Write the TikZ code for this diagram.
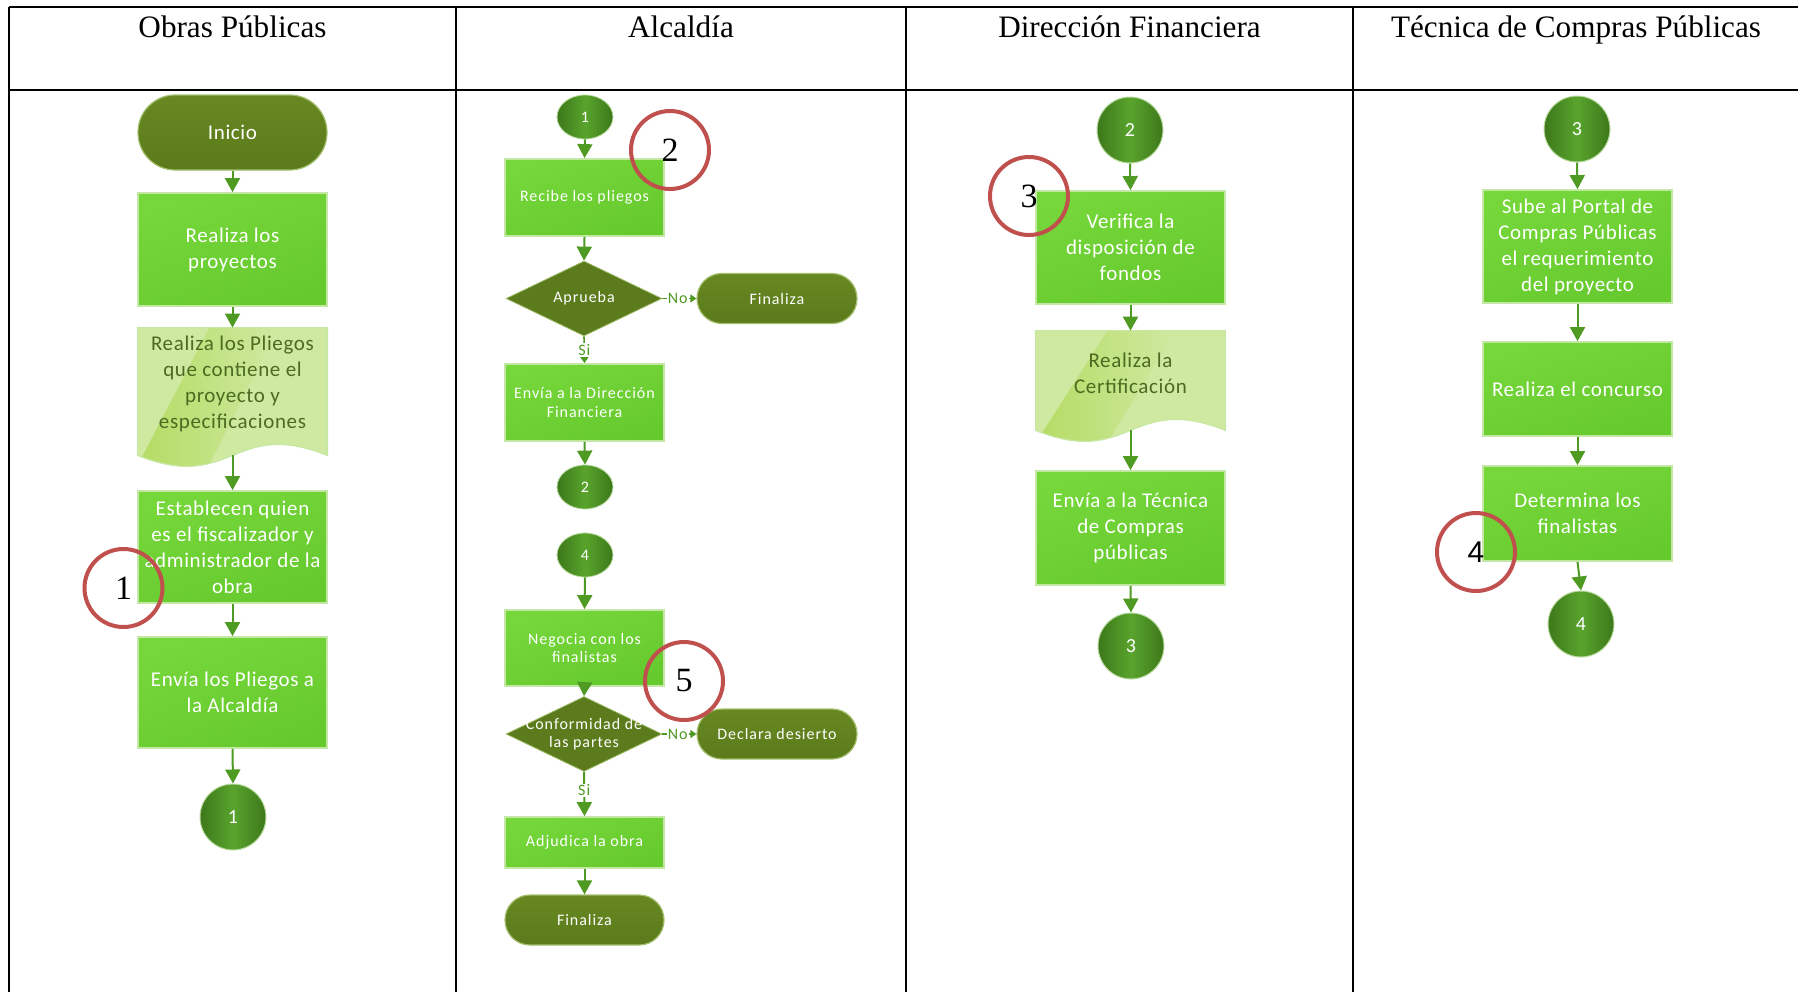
\documentclass[tikz,border=0pt]{standalone}
\usepackage{fontspec}
\setmainfont{Liberation Serif}
\newfontfamily\flowfont{Carlito}[LetterSpace=3.0]
\newfontfamily\flowsmallfont{Carlito}[LetterSpace=6.0]
\newfontfamily\marksans{Liberation Sans}
\usetikzlibrary{shapes.geometric,arrows.meta,calc,backgrounds}

\definecolor{procA}{HTML}{75D73A}
\definecolor{procB}{HTML}{66C92D}
\definecolor{procedge}{HTML}{C3E8A6}
\definecolor{oliveA}{HTML}{688822}
\definecolor{oliveB}{HTML}{5B7B1C}
\definecolor{oliveedge}{HTML}{A3BF6E}
\definecolor{conndark}{HTML}{3D781B}
\definecolor{connlight}{HTML}{59A42D}
\definecolor{connedge}{HTML}{B9DBA0}
\definecolor{flowgreen}{HTML}{4E9A22}
\definecolor{docfill}{HTML}{CFE9A0}
\definecolor{docband}{HTML}{B3DB60}
\definecolor{doctext}{HTML}{4D6B20}
\definecolor{markred}{HTML}{C0504D}

\tikzset{
  tableline/.style={line width=1pt, draw=black},
  head/.style={font=\fontsize{15.6}{18}\selectfont, anchor=base, inner sep=0pt},
  flowtext/.style={font=\flowfont\fontsize{10.5}{13}\selectfont, align=center},
  smalltext/.style={font=\flowsmallfont\fontsize{8}{9.2}\selectfont, align=center},
  proc/.style={flowtext, rectangle, draw=procedge, line width=0.9pt,
    top color=procA, bottom color=procB, shading angle=20,
    text=white, minimum width=94.5pt, inner sep=1pt},
  procs/.style={proc, smalltext, minimum width=79.5pt},
  term/.style={flowtext, rectangle, draw=oliveedge, line width=0.6pt,
    top color=oliveA, bottom color=oliveB, text=white, inner sep=1pt},
  termbig/.style={term, minimum width=94.5pt, minimum height=37.5pt, rounded corners=18.6pt},
  terms/.style={term, smalltext, minimum width=80pt, minimum height=25pt, rounded corners=12.4pt},
  decision/.style={diamond, fill=oliveB, draw=oliveedge, line width=0.4pt,
    minimum width=78pt, minimum height=37.5pt, inner sep=0pt},
  dtext/.style={smalltext, text=white, inner sep=0pt},
  conn/.style={circle, minimum size=33pt, inner sep=0pt, draw=connedge, line width=0.5pt,
    left color=conndark, right color=conndark, middle color=connlight,
    text=white, font=\flowfont\fontsize{10}{10}\selectfont},
  connsmall/.style={ellipse, minimum width=28pt, minimum height=22pt, inner sep=0pt,
    draw=connedge, line width=0.4pt,
    left color=conndark, right color=conndark, middle color=connlight,
    text=white, font=\flowsmallfont\fontsize{8}{8}\selectfont},
  docnode/.style={flowtext, rectangle, minimum width=94.5pt, inner sep=1pt, text=doctext},
  flow/.style={draw=flowgreen, line width=1pt, -{Triangle[width=7.5pt,length=7pt]}},
  flowshort/.style={draw=flowgreen, line width=0.8pt, -{Triangle[width=4pt,length=3pt]}},
  choice/.style={smalltext, text=flowgreen, fill=white, inner sep=0.6pt},
  redmark/.style={circle, draw=markred, line width=2pt, minimum size=39pt, inner sep=0pt,
    text=black, font=\fontsize{17}{17}\selectfont},
}

\begin{document}
\begin{tikzpicture}[x=0.5pt, y=-0.5pt]
\useasboundingbox (0,0) rectangle (1798,992);

% table frame
\draw[tableline] (9,6.7) -- (1798,6.7);
\draw[tableline] (9,90) -- (1798,90);
\draw[tableline] (9,6.7) -- (9,992);
\draw[tableline] (456,6.7) -- (456,992);
\draw[tableline] (906,6.7) -- (906,992);
\draw[tableline] (1353,6.7) -- (1353,992);

% lane headings
\node[head] (h1) at (232.5,37) {Obras Públicas};
\node[head] (h2) at (681,37) {Alcaldía};
\node[head] (h3) at (1129.5,37) {Dirección Financiera};
\node[head] (h4) at (1576,37) {Técnica de Compras Públicas};

% ---- Obras Públicas
\node[termbig] (inicio) at (232.5,132.5) {Inicio};
\node[proc, minimum height=56.5pt] (p1) at (232.5,249.5) {Realiza los\\proyectos};
\node[docnode, minimum height=56pt] (doc1) at (232.5,384) {Realiza los Pliegos\\que contiene el\\proyecto y\\especificaciones};
\node[proc, minimum height=56pt] (p2) at (232.5,547) {Establecen quien\\es el fiscalizador y\\administrador de la\\obra};
\node[proc, minimum height=55.5pt] (p3) at (232.5,692.5) {Envía los Pliegos a\\la Alcaldía};
\node[conn] (c1) at (233,817) {1};

% ---- Alcaldía
\node[connsmall] (e1) at (585,117) {1};
\node[procs, minimum height=38.5pt] (p4) at (584.5,197.5) {Recibe los pliegos};
\node[decision, label={[dtext]center:Aprueba}] (d1) at (584,298.5) {};
\node[terms] (t1) at (777,298.5) {Finaliza};
\node[procs, minimum height=38.5pt] (p5) at (584.5,402.5) {Envía a la Dirección\\Financiera};
\node[connsmall] (e2) at (585,487) {2};
\node[connsmall] (e4) at (585,555) {4};
\node[procs, minimum height=38pt] (p6) at (584.5,648) {Negocia con los\\finalistas};
\node[decision, label={[dtext]center:{Conformidad de\\las partes}}] (d2) at (584,734) {};
\node[terms] (t2) at (777,734) {Declara desierto};
\node[procs, minimum height=25.5pt] (p7) at (584.5,842.5) {Adjudica la obra};
\node[terms, minimum width=79.5pt] (t3) at (584.5,920) {Finaliza};

% ---- Dirección Financiera
\node[conn] (c2) at (1130,130) {2};
\node[proc, minimum height=56.5pt] (p8) at (1130.5,247.5) {Verifica la\\disposición de\\fondos};
\node[docnode, minimum height=42pt] (doc2) at (1130.5,373) {Realiza la\\Certificación};
\node[proc, minimum height=57pt] (p9) at (1130.5,528) {Envía a la Técnica\\de Compras\\públicas};
\node[conn] (c3) at (1131,646) {3};

% ---- Técnica de Compras Públicas
\node[conn] (c3b) at (1577,129) {3};
\node[proc, minimum height=56.5pt] (p10) at (1577.5,246.5) {Sube al Portal de\\Compras Públicas\\el requerimiento\\del proyecto};
\node[proc, minimum height=47pt] (p11) at (1577.5,389) {Realiza el concurso};
\node[proc, minimum height=47.5pt] (p12) at (1577.5,513.5) {Determina los\\finalistas};
\node[conn] (c4) at (1581,624) {4};

% document shapes with their wavy lower edge, behind the text
\begin{pgfonlayer}{background}
\foreach \d in {doc1,doc2} {
  \begin{scope}
    \clip (\d.north west) -- (\d.north east) -- ([yshift=-7.5pt]\d.south east)
      .. controls ([yshift=11.5pt]\d.south) and ([yshift=-26.5pt]\d.south) .. ([yshift=-7.5pt]\d.south west) -- cycle;
    \fill[docfill] ([yshift=2pt]\d.north west) rectangle ([yshift=-20pt]\d.south east);
    \shade[left color=docband, right color=docfill]
      ($(\d.north west)+(36pt,0)$) -- ($(\d.north west)+(70pt,0)$)
      -- ($(\d.south west)+(32pt,-20pt)$) -- ($(\d.south west)+(-4pt,-20pt)$) -- cycle;
    \fill[docfill] ($(\d.north west)+(0,1pt)$) -- ($(\d.north west)+(36pt,1pt)$)
      -- ($(\d.south west)+(-4pt,-20pt)$) -- ($(\d.south west)+(-10pt,-20pt)$) -- cycle;
  \end{scope}
  \draw[procedge!70!docfill, line width=0.6pt] (\d.north west) -- (\d.north east) -- ([yshift=-7.5pt]\d.south east)
      .. controls ([yshift=11.5pt]\d.south) and ([yshift=-26.5pt]\d.south) .. ([yshift=-7.5pt]\d.south west) -- cycle;
}
\end{pgfonlayer}

% connectors, Obras Públicas
\draw[flow] (inicio.south) -- (p1.north);
\draw[flow] (p1.south) -- (doc1.north);
\draw[flow] ([yshift=-7.5pt]doc1.south) -- (p2.north);
\draw[flow] (p2.south) -- (p3.north);
\draw[flow] (p3.south) -- (c1.north);

% connectors, Alcaldía
\draw[flow] (e1.south) -- (p4.north);
\draw[flow] (p4.south) -- (d1.north);
\draw[flowshort] (d1.east) -- node[choice, pos=0.45] {No} (t1.west);
\draw[flowshort] (d1.south) -- node[choice, pos=0.5] {Si} (p5.north);
\draw[flow] (p5.south) -- (e2.north);
\draw[flow] (e4.south) -- (p6.north);
\draw[flow] (p6.south) -- (d2.north);
\draw[flowshort] (d2.east) -- node[choice, pos=0.45] {No} (t2.west);
\draw[flow] (d2.south) -- node[choice, pos=0.42] {Si} (p7.north);
\draw[flow] (p7.south) -- (t3.north);

% connectors, Dirección Financiera
\draw[flow] (c2.south) -- (p8.north);
\draw[flow] (p8.south) -- (doc2.north);
\draw[flow] ([yshift=-7.5pt]doc2.south) -- (p9.north);
\draw[flow] (p9.south) -- (c3.north);

% connectors, Técnica de Compras Públicas
\draw[flow] (c3b.south) -- (p10.north);
\draw[flow] (p10.south) -- (p11.north);
\draw[flow] (p11.south) -- (p12.north);
\draw[flow] (p12.south) -- (c4.north);

% numbered red markers
\node[redmark] (m1) at (123.5,588) {1};
\node[redmark] (m2) at (670,150) {2};
\node[redmark] (m3) at (1029,196) {3};
\node[redmark, font=\marksans\fontsize{15}{15}\selectfont] (m4) at (1476,552) {4};
\node[redmark] (m5) at (684,681) {5};
\end{tikzpicture}
\end{document}
